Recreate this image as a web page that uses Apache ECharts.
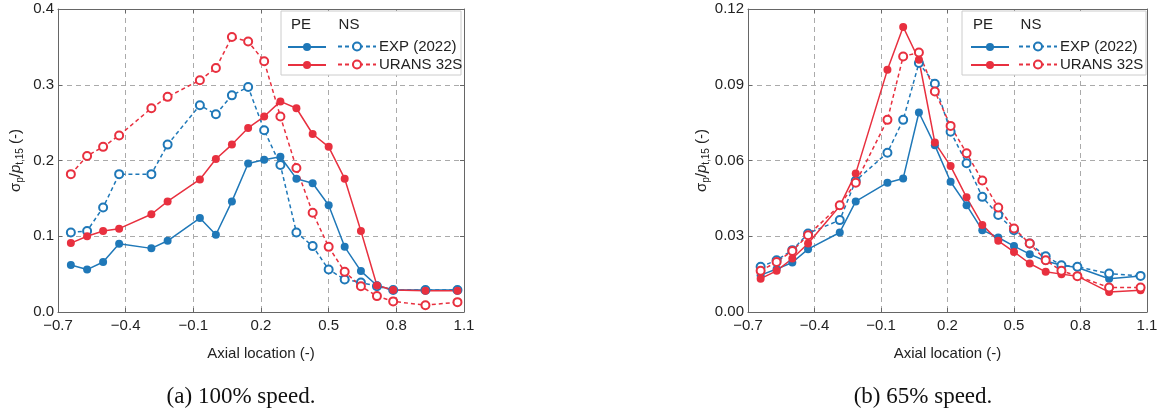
<!DOCTYPE html>
<html lang="en">
<head>
<meta charset="UTF-8">
<title>Pressure fluctuation along axial location</title>
<script src="https://cdn.jsdelivr.net/npm/echarts@6/dist/echarts.min.js"></script>
<style>
  html, body { margin: 0; padding: 0; background: #fff; }
  #chart { width: 1166px; height: 410px; }
</style>
</head>
<body>
<div id="chart"></div>
<script>
  // axial positions, shared by every curve
  const axialPos = [-0.643, -0.571, -0.5, -0.429, -0.286, -0.214, -0.071, 0, 0.071, 0.143, 0.214,
    0.286, 0.357, 0.429, 0.5, 0.571, 0.643, 0.714, 0.786, 0.929, 1.071];

  // (a) 100% speed
  const fullExpPE = [0.062, 0.056, 0.066, 0.090, 0.084, 0.094, 0.124, 0.102, 0.146, 0.196, 0.201,
    0.205, 0.176, 0.170, 0.141, 0.086, 0.054, 0.035, 0.029, 0.029, 0.029];
  const fullUransPE = [0.091, 0.100, 0.107, 0.110, 0.129, 0.146, 0.175, 0.202, 0.221, 0.243, 0.258,
    0.278, 0.269, 0.235, 0.218, 0.176, 0.107, 0.035, 0.029, 0.028, 0.028];
  const fullExpNS = [0.105, 0.107, 0.138, 0.182, 0.182, 0.221, 0.273, 0.261, 0.286, 0.297, 0.240,
    0.194, 0.105, 0.087, 0.056, 0.043, 0.039, 0.034, 0.029, 0.029, 0.029];
  const fullUransNS = [0.182, 0.206, 0.218, 0.233, 0.269, 0.284, 0.306, 0.322, 0.363, 0.357, 0.331,
    0.258, 0.190, 0.131, 0.086, 0.053, 0.034, 0.021, 0.014, 0.009, 0.013];

  // (b) 65% speed
  const partExpPE = [0.0146, 0.0170, 0.0196, 0.0249, 0.0315, 0.0438, 0.0512, 0.0529, 0.0790, 0.0660, 0.0516,
    0.0423, 0.0324, 0.0295, 0.0261, 0.0229, 0.0202, 0.0185, 0.0176, 0.0132, 0.0143];
  const partUransPE = [0.0132, 0.0163, 0.0212, 0.0271, 0.0420, 0.0549, 0.0959, 0.1129, 0.0999, 0.0671, 0.0578,
    0.0454, 0.0345, 0.0282, 0.0238, 0.0192, 0.0159, 0.0150, 0.0142, 0.0079, 0.0086];
  const partExpNS = [0.0179, 0.0205, 0.0245, 0.0311, 0.0364, 0.0520, 0.0631, 0.0761, 0.0986, 0.0904, 0.0714,
    0.0589, 0.0456, 0.0384, 0.0324, 0.0271, 0.0221, 0.0185, 0.0179, 0.0152, 0.0143];
  const partUransNS = [0.0163, 0.0198, 0.0242, 0.0304, 0.0423, 0.0512, 0.0761, 0.1012, 0.1028, 0.0873, 0.0737,
    0.0629, 0.0521, 0.0414, 0.0331, 0.0271, 0.0205, 0.0163, 0.0142, 0.0097, 0.0097];

  const xTicks = { min: -0.7, max: 1.1, interval: 0.3 };
  const captions = ['(a) 100% speed.', '(b) 65% speed.'];

  const BLUE = '#1f78b8';
  const RED = '#e8303f';
  const FONT = 'Liberation Sans';
  const TXT = '#222';

  const pairs = (ys) => axialPos.map((x, i) => [x, ys[i]]);

  function curve(name, ys, color, dashed, idx) {
    return {
      name: name,
      type: 'line',
      xAxisIndex: idx,
      yAxisIndex: idx,
      data: pairs(ys),
      symbol: dashed ? 'emptyCircle' : 'circle',
      symbolSize: 8,
      showSymbol: true,
      animation: false,
      lineStyle: { color: color, width: 1.5, type: dashed ? [4, 3] : 'solid' },
      itemStyle: { color: color, borderColor: color, borderWidth: dashed ? 1.2 : 0 }
    };
  }

  const minus = (s) => s.replace('-', '\u2212');

  function bottomX(gridIndex) {
    return {
      type: 'value', gridIndex: gridIndex, position: 'bottom',
      min: xTicks.min, max: xTicks.max, interval: xTicks.interval,
      name: 'Axial location (-)', nameLocation: 'middle', nameGap: 34,
      nameTextStyle: { fontFamily: FONT, fontSize: 15, color: TXT },
      axisLine: { show: true, onZero: false, lineStyle: { color: '#666' } },
      axisTick: { show: true, inside: true, length: 4, lineStyle: { color: '#666' } },
      axisLabel: { fontFamily: FONT, fontSize: 15, color: TXT, margin: 6,
        formatter: (v) => minus(v.toFixed(1)) },
      splitLine: { show: true, lineStyle: { color: '#aaa', type: [5, 4] } }
    };
  }
  function topX(gridIndex) {
    return {
      type: 'value', gridIndex: gridIndex, position: 'top',
      min: xTicks.min, max: xTicks.max, interval: xTicks.interval,
      axisLine: { show: true, onZero: false, lineStyle: { color: '#666' } },
      axisTick: { show: true, inside: true, length: 4, lineStyle: { color: '#666' } },
      axisLabel: { show: false }, splitLine: { show: false }
    };
  }
  const yName = '{g|σ}{s|p}{g|/}{i|p}{s|t,15}{g| (-)}';
  const yRich = {
    g: { fontFamily: FONT, fontSize: 15, color: TXT, lineHeight: 18 },
    i: { fontFamily: FONT, fontSize: 15, color: TXT, fontStyle: 'italic', lineHeight: 18 },
    s: { fontFamily: FONT, fontSize: 10, color: TXT, lineHeight: 10, verticalAlign: 'bottom' }
  };
  function leftY(gridIndex, max, step, digits, gap) {
    return {
      type: 'value', gridIndex: gridIndex, position: 'left',
      min: 0, max: max, interval: step,
      name: yName, nameLocation: 'middle', nameGap: gap, nameRotate: 90,
      nameTextStyle: { rich: yRich, padding: [0, 0, 0, 0] },
      axisLine: { show: true, onZero: false, lineStyle: { color: '#666' } },
      axisTick: { show: true, inside: true, length: 4, lineStyle: { color: '#666' } },
      axisLabel: { fontFamily: FONT, fontSize: 15, color: TXT, margin: 4,
        formatter: (v) => v.toFixed(digits) },
      splitLine: { show: true, lineStyle: { color: '#aaa', type: [5, 4] } }
    };
  }
  function rightY(gridIndex, max, step) {
    return {
      type: 'value', gridIndex: gridIndex, position: 'right',
      min: 0, max: max, interval: step,
      axisLine: { show: true, onZero: false, lineStyle: { color: '#666' } },
      axisTick: { show: true, inside: true, length: 4, lineStyle: { color: '#666' } },
      axisLabel: { show: false }, splitLine: { show: false }
    };
  }

  // one legend per entry so each row sits exactly where it should
  function legendItem(name, left, top, withText) {
    return {
      left: left, top: top, data: [name], selectedMode: false, z: 6,
      itemWidth: 38, itemHeight: 10, itemGap: 4,
      formatter: withText ? (n) => n.trim() : () => '',
      textStyle: { fontFamily: FONT, fontSize: 15, color: TXT, padding: [0, 0, 0, -2] }
    };
  }

  const option = {
    backgroundColor: '#fff',
    animation: false,
    grid: [
      { left: 58, right: 702, top: 9, bottom: 98 },
      { left: 748, right: 19, top: 9, bottom: 98 }
    ],
    xAxis: [bottomX(0), topX(0), bottomX(1), topX(1)],
    yAxis: [leftY(0, 0.4, 0.1, 1, 33), rightY(0, 0.4, 0.1), leftY(1, 0.12, 0.03, 2, 34), rightY(1, 0.12, 0.03)],
    legend: [
      legendItem('PE EXP (2022) a', 282, 37, false),
      legendItem('PE URANS 32S a', 282, 55, false),
      legendItem('EXP (2022)', 332, 34, true),
      legendItem('URANS 32S', 332, 52, true),
      legendItem('PE EXP (2022) b', 965, 37, false),
      legendItem('PE URANS 32S b', 965, 55, false),
      legendItem('EXP (2022) ', 1013, 34, true),
      legendItem('URANS 32S ', 1013, 52, true)
    ],
    graphic: [
      { type: 'rect', shape: { x: 281, y: 11, width: 180, height: 64 }, style: { fill: '#fff', stroke: '#ccc', lineWidth: 1 }, z: 3 },
      { type: 'rect', shape: { x: 962, y: 11, width: 184, height: 64 }, style: { fill: '#fff', stroke: '#ccc', lineWidth: 1 }, z: 3 },
      { type: 'text', x: 301, y: 25, z: 6, style: { text: 'PE', font: '15px "Liberation Sans"', fill: TXT, align: 'center', verticalAlign: 'middle' } },
      { type: 'text', x: 349, y: 25, z: 6, style: { text: 'NS', font: '15px "Liberation Sans"', fill: TXT, align: 'center', verticalAlign: 'middle' } },
      { type: 'text', x: 983, y: 25, z: 6, style: { text: 'PE', font: '15px "Liberation Sans"', fill: TXT, align: 'center', verticalAlign: 'middle' } },
      { type: 'text', x: 1031, y: 25, z: 6, style: { text: 'NS', font: '15px "Liberation Sans"', fill: TXT, align: 'center', verticalAlign: 'middle' } },
      { type: 'text', x: 241, y: 397, style: { text: captions[0], font: '23px "Liberation Serif"', fill: '#111', align: 'center', verticalAlign: 'middle' } },
      { type: 'text', x: 923, y: 397, style: { text: captions[1], font: '23px "Liberation Serif"', fill: '#111', align: 'center', verticalAlign: 'middle' } }
    ],
    series: [
      curve('PE EXP (2022) a', fullExpPE, BLUE, false, 0),
      curve('EXP (2022)', fullExpNS, BLUE, true, 0),
      curve('PE URANS 32S a', fullUransPE, RED, false, 0),
      curve('URANS 32S', fullUransNS, RED, true, 0),
      curve('PE EXP (2022) b', partExpPE, BLUE, false, 2),
      curve('EXP (2022) ', partExpNS, BLUE, true, 2),
      curve('PE URANS 32S b', partUransPE, RED, false, 2),
      curve('URANS 32S ', partUransNS, RED, true, 2)
    ]
  };

  const chart = echarts.init(document.getElementById('chart'));
  chart.setOption(option);
</script>
</body>
</html>
